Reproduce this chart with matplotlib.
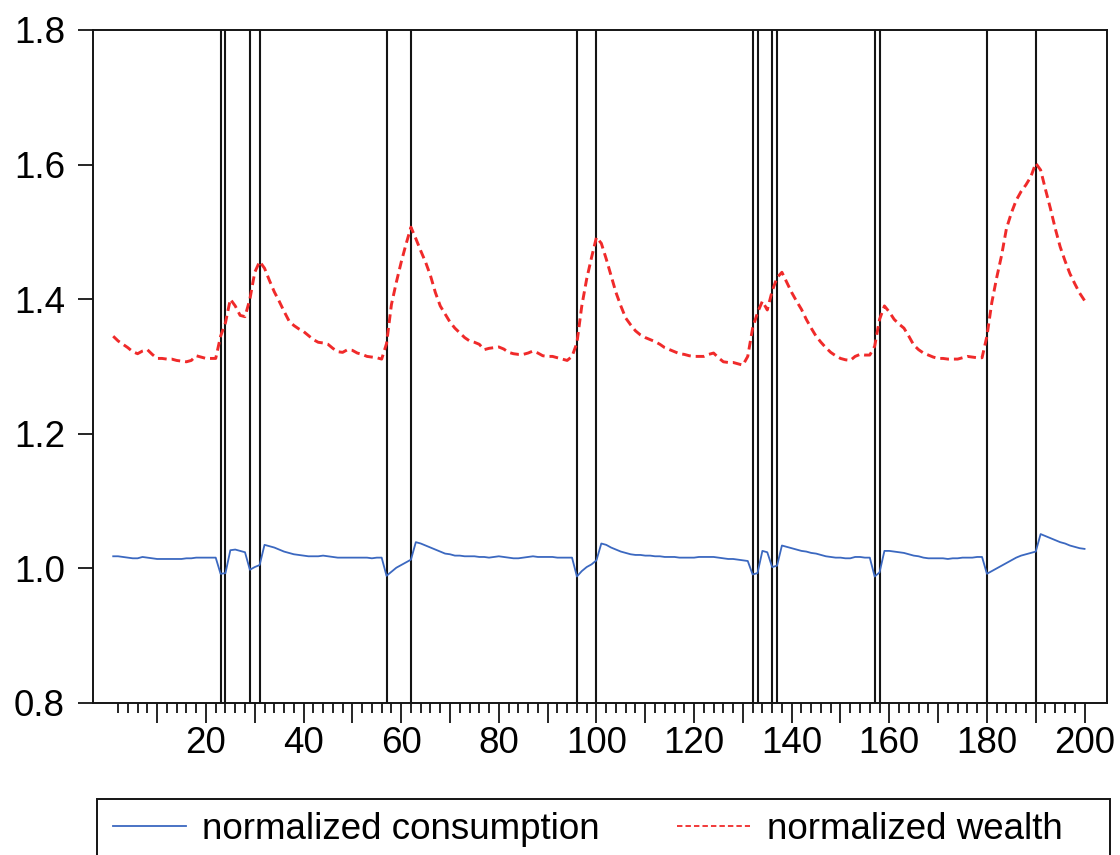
import numpy as np
import matplotlib.pyplot as plt
from matplotlib.patches import Rectangle
from matplotlib.ticker import FixedLocator

plt.rcParams['font.family'] = ['Liberation Sans', 'DejaVu Sans']

## data, observations 1..200
obs = np.arange(1, 201)

consumption = [
    1.018, 1.018, 1.017, 1.016, 1.015, 1.015, 1.017, 1.016, 1.015, 1.014,
    1.014, 1.014, 1.014, 1.014, 1.014, 1.015, 1.015, 1.016, 1.016, 1.016,
    1.016, 1.016, 0.992, 0.993, 1.027, 1.028, 1.026, 1.024, 0.998, 1.002,
    1.005, 1.035, 1.033, 1.031, 1.028, 1.025, 1.023, 1.021, 1.020, 1.019,
    1.018, 1.018, 1.018, 1.019, 1.018, 1.017, 1.016, 1.016, 1.016, 1.016,
    1.016, 1.016, 1.016, 1.015, 1.016, 1.016, 0.989, 0.995, 1.001, 1.005,
    1.009, 1.013, 1.039, 1.037, 1.034, 1.031, 1.028, 1.025, 1.022, 1.021,
    1.019, 1.019, 1.018, 1.018, 1.018, 1.017, 1.017, 1.016, 1.017, 1.018,
    1.017, 1.016, 1.015, 1.015, 1.016, 1.017, 1.018, 1.017, 1.017, 1.017,
    1.017, 1.016, 1.016, 1.016, 1.016, 0.988, 0.996, 1.002, 1.006, 1.012,
    1.037, 1.035, 1.031, 1.028, 1.025, 1.023, 1.021, 1.020, 1.020, 1.019,
    1.019, 1.018, 1.018, 1.017, 1.017, 1.017, 1.016, 1.016, 1.016, 1.016,
    1.017, 1.017, 1.017, 1.017, 1.016, 1.015, 1.014, 1.014, 1.013, 1.012,
    1.011, 0.991, 0.993, 1.026, 1.024, 1.002, 1.004, 1.034, 1.032, 1.030,
    1.028, 1.026, 1.025, 1.023, 1.022, 1.020, 1.018, 1.017, 1.016, 1.016,
    1.015, 1.015, 1.017, 1.017, 1.016, 1.016, 0.988, 0.994, 1.026, 1.026,
    1.025, 1.024, 1.023, 1.021, 1.019, 1.018, 1.016, 1.015, 1.015, 1.015,
    1.015, 1.014, 1.015, 1.015, 1.016, 1.016, 1.016, 1.017, 1.017, 0.992,
    0.996, 1.000, 1.004, 1.008, 1.012, 1.016, 1.019, 1.021, 1.023, 1.025,
    1.051, 1.048, 1.045, 1.042, 1.039, 1.037, 1.034, 1.032, 1.030, 1.029,
]

wealth = [
    1.345, 1.338, 1.333, 1.328, 1.322, 1.319, 1.323, 1.325, 1.318, 1.312,
    1.312, 1.311, 1.311, 1.309, 1.308, 1.307, 1.309, 1.316, 1.314, 1.312,
    1.312, 1.312, 1.345, 1.365, 1.400, 1.390, 1.376, 1.374, 1.400, 1.440,
    1.456, 1.446, 1.428, 1.411, 1.397, 1.382, 1.368, 1.361, 1.356, 1.352,
    1.346, 1.340, 1.336, 1.335, 1.333, 1.327, 1.322, 1.321, 1.325, 1.324,
    1.320, 1.318, 1.315, 1.314, 1.313, 1.311, 1.334, 1.392, 1.425, 1.455,
    1.482, 1.507, 1.490, 1.472, 1.455, 1.435, 1.410, 1.390, 1.378, 1.366,
    1.357, 1.350, 1.343, 1.338, 1.336, 1.333, 1.325, 1.327, 1.328, 1.329,
    1.326, 1.321, 1.319, 1.318, 1.318, 1.320, 1.323, 1.320, 1.316, 1.315,
    1.315, 1.313, 1.311, 1.309, 1.315, 1.335, 1.390, 1.430, 1.462, 1.492,
    1.483, 1.460, 1.435, 1.410, 1.390, 1.372, 1.362, 1.353, 1.347, 1.343,
    1.340, 1.337, 1.333, 1.328, 1.325, 1.322, 1.319, 1.318, 1.316, 1.315,
    1.315, 1.315, 1.318, 1.320, 1.313, 1.307, 1.306, 1.306, 1.304, 1.302,
    1.315, 1.357, 1.380, 1.397, 1.384, 1.412, 1.432, 1.440, 1.425, 1.410,
    1.397, 1.385, 1.370, 1.357, 1.345, 1.336, 1.328, 1.321, 1.316, 1.312,
    1.310, 1.309, 1.315, 1.318, 1.317, 1.317, 1.330, 1.370, 1.390, 1.381,
    1.370, 1.363, 1.357, 1.345, 1.332, 1.325, 1.320, 1.317, 1.314, 1.312,
    1.312, 1.311, 1.311, 1.311, 1.313, 1.315, 1.314, 1.313, 1.313, 1.345,
    1.395, 1.432, 1.465, 1.505, 1.528, 1.547, 1.560, 1.570, 1.582, 1.602,
    1.592, 1.563, 1.535, 1.505, 1.478, 1.457, 1.438, 1.423, 1.409, 1.398,
]

# observations marked with vertical lines
marks = [23, 24, 29, 31, 57, 62, 96, 100, 132, 133, 136, 137, 157, 158, 180, 190]

y_ticks = [0.8, 1.0, 1.2, 1.4, 1.6, 1.8]
x_labels = [20, 40, 60, 80, 100, 120, 140, 160, 180, 200]

fs = 26.5

fig = plt.figure(figsize=(11.2, 8.55), dpi=100)
ax = fig.add_axes([92.7/1120, 1 - 703/855, (1107 - 92.7)/1120, (703 - 30)/855])

for m in marks:
    ax.axvline(m, color="#141414", linewidth=1.5, zorder=1)

ax.plot(obs, consumption, color="#3b68c0", linewidth=1.3, zorder=3,
        label="normalized consumption")
ax.plot(obs, wealth, color="#f02a2a", linewidth=2.1, linestyle=(0, (3.0, 1.7)),
        zorder=3, label="normalized wealth")

ax.set_xlim(-3.2, 204.6)
ax.set_ylim(0.8, 1.8)

ax.set_yticks(y_ticks)
ax.set_yticklabels([f"{v:.1f}" for v in y_ticks])

major = list(range(10, 201, 10))
ax.xaxis.set_major_locator(FixedLocator(major))
ax.set_xticklabels([str(v) if v in x_labels else "" for v in major])
ax.xaxis.set_minor_locator(FixedLocator([v for v in range(2, 201, 2) if v % 10]))

ax.tick_params(axis="y", direction="out", length=11, width=1.2, labelsize=fs, pad=9)
ax.tick_params(axis="x", which="major", direction="out", length=14.5, width=1.2,
               labelsize=fs, pad=2)
ax.tick_params(axis="x", which="minor", direction="out", length=7.2, width=1.2)

for s in ax.spines.values():
    s.set_linewidth(1.4)
    s.set_color("#141414")

# legend below the chart, in a wide box
leg = fig.legend(loc="center left", bbox_to_anchor=(113/1120, 1 - 829/855), ncol=2,
                 frameon=False, fontsize=fs, handlelength=1.98, handletextpad=0.45,
                 columnspacing=2.1, borderpad=0, borderaxespad=0)
for h in leg.get_lines():
    h.set_linewidth(1.3)
fig.patches.append(Rectangle((97/1120, -0.05), (1110 - 97)/1120, 0.05 + 1 - 799/855,
                             transform=fig.transFigure, fill=False,
                             edgecolor="#141414", linewidth=1.4))

fig.savefig("out.png", dpi=100)
